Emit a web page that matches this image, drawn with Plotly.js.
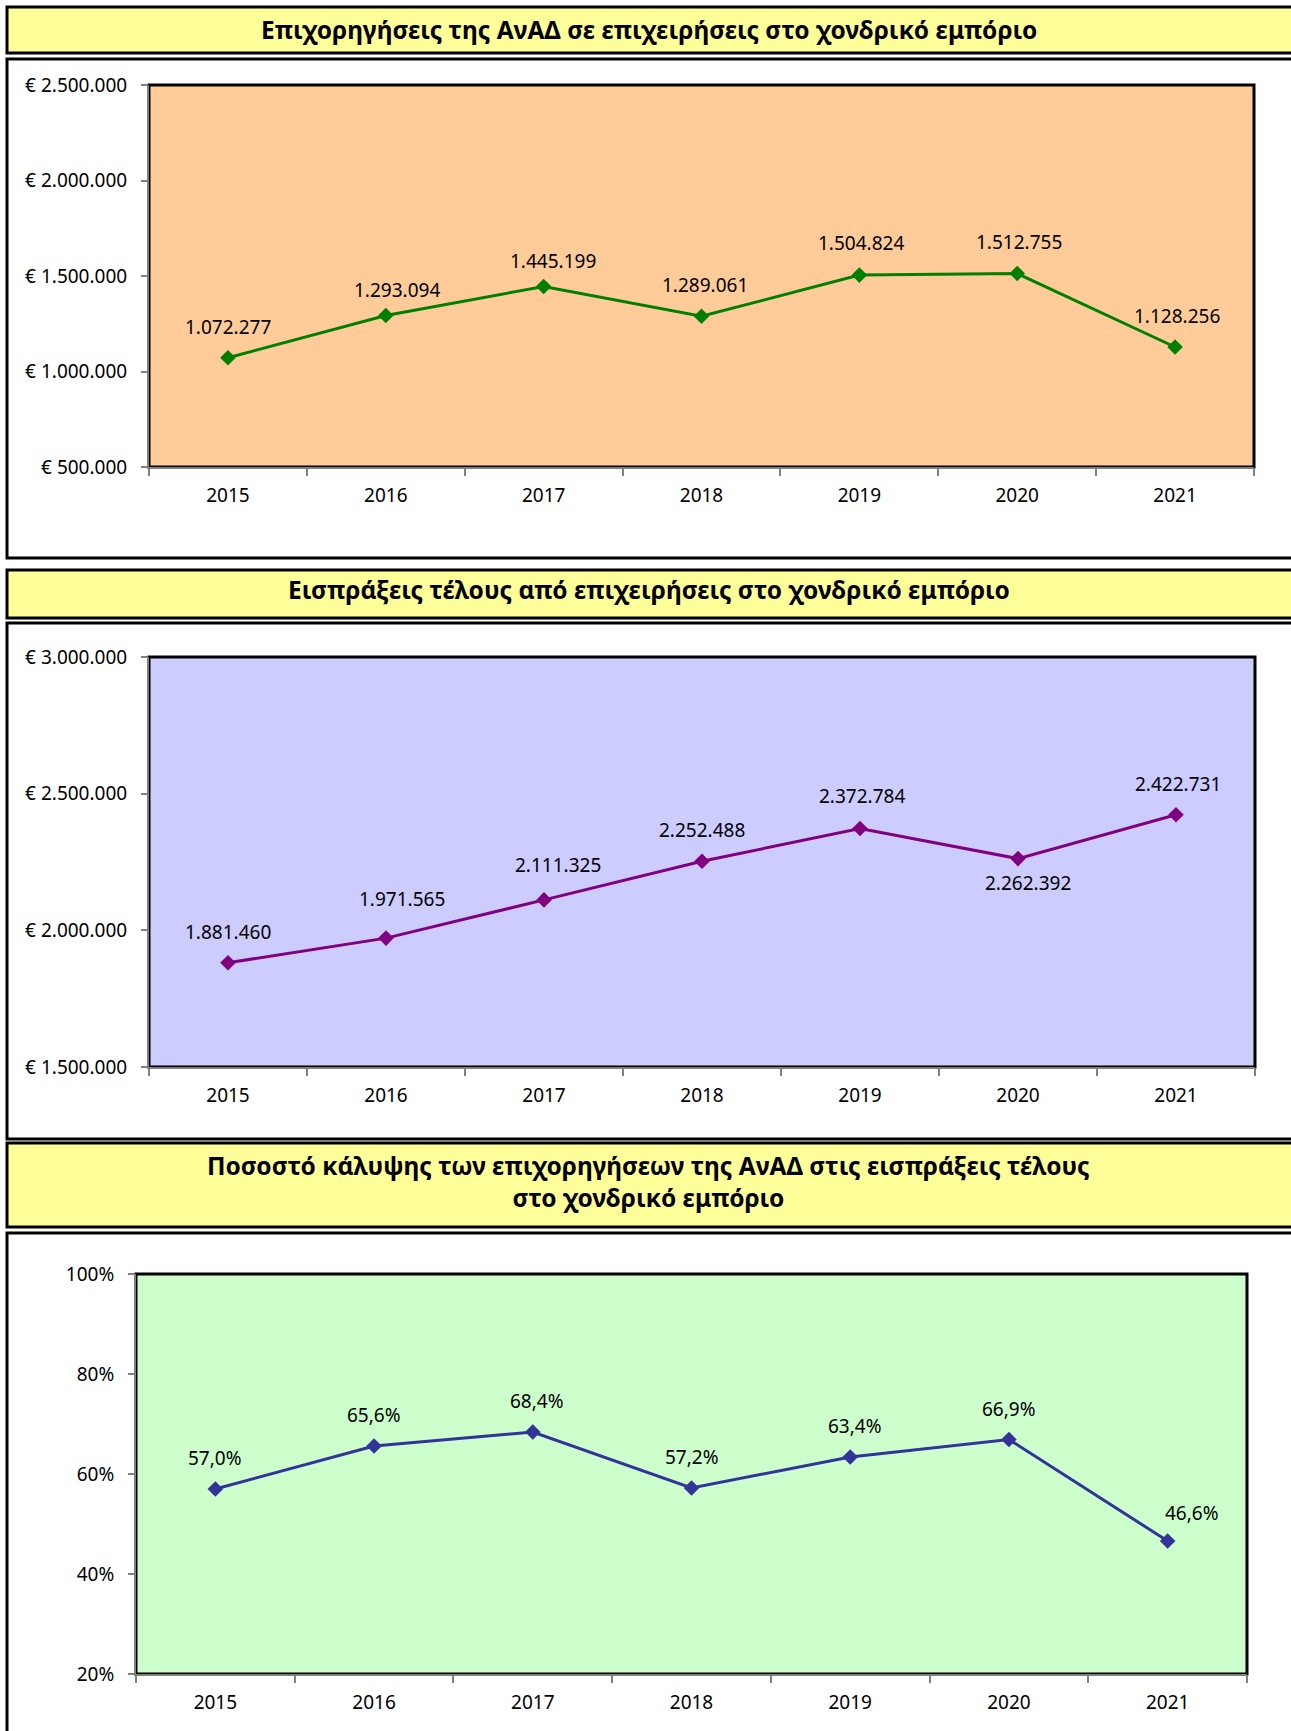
<!DOCTYPE html>
<html>
<head>
<meta charset="utf-8">
<script src="https://cdn.plot.ly/plotly-3.0.1.min.js"></script>
<style>
  html, body { margin: 0; padding: 0; background: #ffffff; }
  #chart { width: 1291px; height: 1731px; }
</style>
</head>
<body>
<div id="chart"></div>
<script>
// ---------------- DATA ----------------
const years = ['2015', '2016', '2017', '2018', '2019', '2020', '2021'];
const grants = [1072277, 1293094, 1445199, 1289061, 1504824, 1512755, 1128256];
const feeReceipts = [1881460, 1971565, 2111325, 2252488, 2372784, 2262392, 2422731];
const coveragePct = [57.0, 65.6, 68.4, 57.2, 63.4, 66.9, 46.6];

const title1 = 'Επιχορηγήσεις της ΑνΑΔ σε επιχειρήσεις στο χονδρικό εμπόριο';
const title2 = 'Εισπράξεις τέλους από επιχειρήσεις στο χονδρικό εμπόριο';
const title3 = 'Ποσοστό κάλυψης των επιχορηγήσεων της ΑνΑΔ στις εισπράξεις τέλους<br>στο χονδρικό εμπόριο';

// ---------------- LAYOUT CONFIG ----------------
const W = 1291, H = 1731;
const FONT = 'Noto Sans, Open Sans, DejaVu Sans, sans-serif';
const px = x => x / W;
const py = y => 1 - y / H;

// data-label placement offsets in pixels (style only)
const shift1 = { dx: [0, 11, 9, 3, 2, 2, 2], dy: [31, 26, 25, 31, 32, 32, 31] };
const shift2 = { dx: [0, 16, 14, 0, 2, 10, 2], dy: [31, 39, 35, 31, 32, -24, 31] };
const shift3 = { dx: [0, 0, 4, 0, 5, 0, 24], dy: [31, 31, 31, 31, 31, 31, 28] };

const fmtDots = v => String(Math.round(v)).replace(/\B(?=(\d{3})+(?!\d))/g, '.');
const fmtPct = v => v.toFixed(1).replace('.', ',') + '%';

function labels(xref, yref, ys, fmt, sh) {
  return ys.map((v, i) => ({
    xref: xref, yref: yref, x: i, y: v,   // category index on the x axis
    text: fmt(v), showarrow: false,
    xanchor: 'center', yanchor: 'middle',
    xshift: sh.dx[i], yshift: sh.dy[i],
    font: { family: FONT, size: 19, color: '#000000' }
  }));
}

function lineTrace(xa, ya, ys, color) {
  return {
    type: 'scatter', mode: 'lines+markers',
    x: years, y: ys, xaxis: xa, yaxis: ya,
    line: { color: color, width: 3 },
    marker: { symbol: 'diamond', size: 12, color: color },
    hoverinfo: 'skip', showlegend: false, cliponaxis: false
  };
}

const traces = [
  lineTrace('x', 'y', grants, '#008000'),
  lineTrace('x2', 'y2', feeReceipts, '#800080'),
  lineTrace('x3', 'y3', coveragePct, '#333399')
];

function xAxis(dom, anchor) {
  return {
    domain: dom, anchor: anchor, type: 'category',
    categoryorder: 'array', categoryarray: years,
    range: [-0.5, years.length - 0.5], autorange: false,
    tickson: 'boundaries', ticks: 'outside', ticklen: 7, tickwidth: 2, tickcolor: '#808080',
    showline: true, linecolor: '#808080', linewidth: 2,
    showgrid: false, zeroline: false, fixedrange: true, tickangle: 0,
    tickfont: { family: FONT, size: 19, color: '#000000' },
    ticklabelstandoff: 10
  };
}
function yAxis(dom, anchor, range, dtick, extra) {
  return Object.assign({
    domain: dom, anchor: anchor, range: range, autorange: false, dtick: dtick, tick0: range[0],
    ticks: 'outside', ticklen: 6, tickwidth: 2, tickcolor: '#808080',
    showline: true, linecolor: '#808080', linewidth: 2,
    showgrid: false, zeroline: false, fixedrange: true,
    tickfont: { family: FONT, size: 19, color: '#000000' },
    ticklabelstandoff: 10
  }, extra);
}

function box(y0, y1, fill, width) {
  return {
    type: 'rect', xref: 'paper', yref: 'paper', layer: 'below',
    x0: px(7), x1: px(1310), y0: py(y0), y1: py(y1),
    line: { color: '#000000', width: width },
    fillcolor: fill
  };
}
function plotArea(xa, ya, fill) {
  return {
    type: 'rect', xref: xa + ' domain', yref: ya + ' domain', layer: 'below',
    x0: 0, x1: 1, y0: 0, y1: 1,
    line: { color: '#000000', width: 3 },
    fillcolor: fill
  };
}

const shapes = [
  box(7, 53, '#FFFF99', 3),
  box(59, 558, 'rgba(0,0,0,0)', 3),
  box(570, 618, '#FFFF99', 3),
  box(623, 1139, 'rgba(0,0,0,0)', 3),
  box(1143, 1227, '#FFFF99', 3),
  box(1233, 1760, 'rgba(0,0,0,0)', 3),
  plotArea('x', 'y', '#FFCC99'),
  plotArea('x2', 'y2', '#CCCCFF'),
  plotArea('x3', 'y3', '#CCFFCC')
];

function titleAnn(text, yc) {
  return {
    xref: 'paper', yref: 'paper', x: px(649), y: py(yc),
    xanchor: 'center', yanchor: 'middle', showarrow: false,
    text: '<b>' + text.replace('<br>', '</b><br><b>') + '</b>',
    font: { family: FONT, size: 24.5, color: '#000000' }
  };
}

const annotations = [
  titleAnn(title1, 29),
  titleAnn(title2, 590),
  titleAnn(title3, 1181)
].concat(
  labels('x', 'y', grants, fmtDots, shift1),
  labels('x2', 'y2', feeReceipts, fmtDots, shift2),
  labels('x3', 'y3', coveragePct, fmtPct, shift3)
);

const layout = {
  width: W, height: H,
  margin: { l: 0, r: 0, t: 0, b: 0, pad: 0 },
  paper_bgcolor: '#ffffff', plot_bgcolor: 'rgba(0,0,0,0)',
  separators: ',.',
  showlegend: false,
  font: { family: FONT, color: '#000000' },
  xaxis: xAxis([px(149), px(1254)], 'y'),
  yaxis: yAxis([py(467), py(85)], 'x', [500000, 2500000], 500000, { tickprefix: '€ ', tickformat: ',d' }),
  xaxis2: xAxis([px(149), px(1255)], 'y2'),
  yaxis2: yAxis([py(1067), py(657)], 'x2', [1500000, 3000000], 500000, { tickprefix: '€ ', tickformat: ',d' }),
  xaxis3: xAxis([px(136), px(1247)], 'y3'),
  yaxis3: yAxis([py(1674), py(1274)], 'x3', [20, 100], 20, { ticksuffix: '%', tickformat: 'd' }),
  shapes: shapes,
  annotations: annotations
};

Plotly.newPlot('chart', traces, layout, { displayModeBar: false, staticPlot: true });
</script>
</body>
</html>
